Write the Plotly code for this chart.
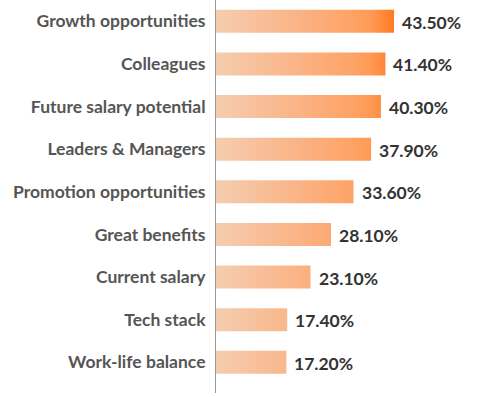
import plotly.graph_objects as go

categories = ["Growth opportunities", "Colleagues", "Future salary potential",
              "Leaders & Managers", "Promotion opportunities", "Great benefits",
              "Current salary", "Tech stack", "Work-life balance"]
values = [43.5, 41.4, 40.3, 37.9, 33.6, 28.1, 23.1, 17.4, 17.2]
value_labels = ["43.50%", "41.40%", "40.30%", "37.90%", "33.60%", "28.10%",
                "23.10%", "17.40%", "17.20%"]

half = 0.27
vmax = max(values)
cscale = [[0.0, "#F4CDB0"], [0.45, "#FAB487"], [0.75, "#FDA468"],
          [0.87, "#FF9A55"], [1.0, "#FF7A22"]]

fig = go.Figure()
for i, v in enumerate(values):
    fig.add_trace(go.Scatter(
        x=[0, v, v, 0, 0],
        y=[i - half, i - half, i + half, i + half, i - half],
        mode="lines", line=dict(width=0), fill="toself",
        fillgradient=dict(type="horizontal", colorscale=cscale, start=0, stop=vmax),
        hoverinfo="skip", showlegend=False))
    fig.add_annotation(x=v, y=i, text=value_labels[i], showarrow=False,
                       xanchor="left", yanchor="middle", xshift=6, yshift=-1,
                       font=dict(family="Lato", size=17.5, color="#333333", weight="bold"))

fig.update_layout(
    width=482, height=397,
    margin=dict(l=216, r=0, t=0, b=4),
    paper_bgcolor="white", plot_bgcolor="white",
    showlegend=False,
)
fig.update_xaxes(range=[0, 65], visible=False, showgrid=False, zeroline=False)
fig.update_yaxes(range=[8.72, -0.5], tickvals=list(range(len(categories))),
                 ticktext=categories, showgrid=False, zeroline=False,
                 showline=True, linecolor="#9a9a9a", linewidth=1,
                 ticks="outside", ticklen=6, tickcolor="rgba(0,0,0,0)",
                 automargin=False,
                 tickfont=dict(family="Lato", size=17.5, color="#555555", weight="bold"))

fig.write_html("out.html", config={"displayModeBar": False},
               post_script="document.body.style.margin='0';")
